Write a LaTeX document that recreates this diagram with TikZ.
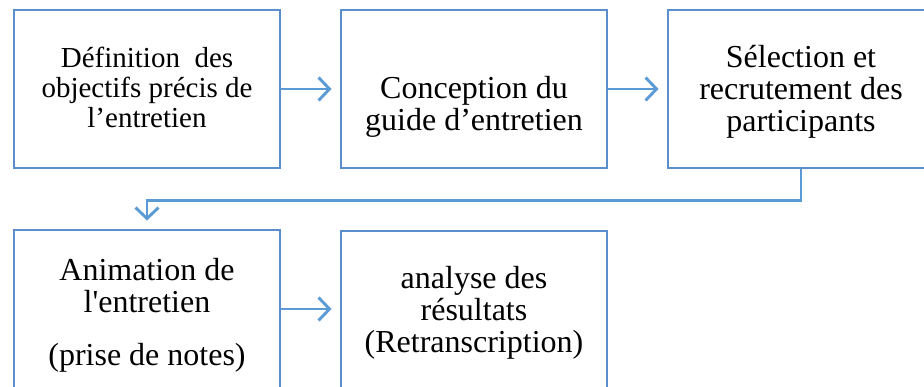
\documentclass[tikz,border=0pt]{standalone}
\usepackage{fontspec}
\setmainfont{Liberation Serif}
% same face without the TeX quote mapping, for a straight apostrophe
\newfontfamily\rawserif{Liberation Serif}
\usetikzlibrary{arrows.meta}
\definecolor{boxblue}{HTML}{5B8FCC}
\definecolor{linkblue}{HTML}{5B9BD5}
\tikzset{
  stepbox/.style={draw=boxblue, line width=2.9pt, minimum width=266pt,
    minimum height=158pt, inner sep=0pt},
  steptext/.style={align=center, inner sep=0pt,
    font=\fontsize{32}{32}\selectfont},
  link/.style={draw=linkblue, line width=2.9pt,
    -{Straight Barb[length=11pt,width=23pt]}, shorten >=8pt}
}
\begin{document}
\begin{tikzpicture}[x=1pt,y=-1pt]
  \useasboundingbox (0,0) rectangle (924,387);
  \clip (0,0) rectangle (924,387);
  % the five step frames
  \node[stepbox] (b1) at (147,89) {};
  \node[stepbox] (b2) at (474,89) {};
  \node[stepbox] (b3) at (801,89) {};
  \node[stepbox] (b4) at (147,309) {};
  \node[stepbox] (b5) at (474,310) {};
  % their texts
  \node[steptext, font=\fontsize{29}{30}\selectfont] (t1)
    at ([yshift=2pt]b1.center) {Définition~ des\\objectifs précis de\\l’entretien};
  \node[steptext] (t2) at ([yshift=-18pt]b2.center)
    {Conception du\\guide d’entretien};
  \node[steptext] (t3) at ([yshift=-3pt]b3.center)
    {Sélection et\\recrutement des\\participants};
  \node[steptext] (t4) at ([yshift=-6pt]b4.center)
    {Animation de\\l{\rawserif'}entretien\\[21pt](prise de notes)};
  \node[steptext] (t5) at ([yshift=-3pt]b5.center)
    {analyse des\\résultats\\(Retranscription)};
  % connectors
  \draw[link] (b1.east) -- (b2.west);
  \draw[link] (b2.east) -- (b3.west);
  \draw[link] (b3.south) -- ++(0,31) -| (b4.north);
  \draw[link] (b4.east) -- (b4.east -| b5.west);
\end{tikzpicture}
\end{document}
